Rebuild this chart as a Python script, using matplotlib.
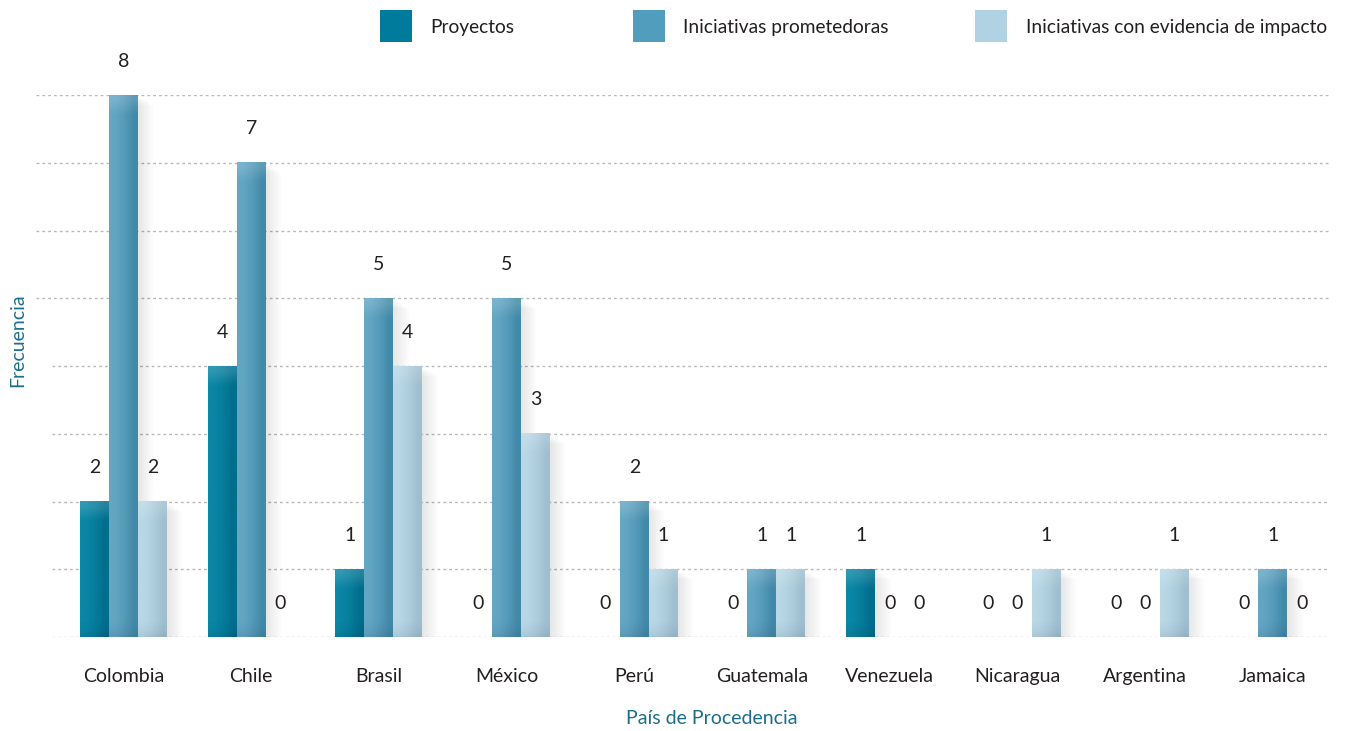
import numpy as np
import matplotlib.pyplot as plt
from matplotlib.patches import Rectangle
from matplotlib.colors import to_rgb

# --- data ---
paises = ["Colombia", "Chile", "Brasil", "México", "Perú",
          "Guatemala", "Venezuela", "Nicaragua", "Argentina", "Jamaica"]
proyectos = [2, 4, 1, 0, 0, 0, 1, 0, 0, 0]
prometedoras = [8, 7, 5, 5, 2, 1, 0, 0, 0, 1]
evidencia = [2, 0, 4, 3, 1, 1, 0, 1, 1, 0]
series_names = ["Proyectos", "Iniciativas prometedoras",
                "Iniciativas con evidencia de impacto"]

# (base, left-light, right-dark)
palette = [
    ("#007b9b", "#0a87a6", "#006d8c"),
    ("#519dbd", "#63a6c4", "#4289a9"),
    ("#b1d2e2", "#b9d8e6", "#9fbfd0"),
]
TEAL = "#1b6e8e"
TXT = "#231f20"

plt.rcParams["font.family"] = ["Lato", "DejaVu Sans"]

fig = plt.figure(figsize=(13.46, 7.31), dpi=100)
W, H = 1346, 731
ax = fig.add_axes([36 / W, (H - 637) / H, 1294 / W, (637 - 95) / H])

x = np.arange(len(paises))
bw = 0.227
ax.set_xlim(-0.685, 9.448)
ax.set_ylim(0, 8)

# dotted gridlines
for g in range(0, 9):
    xmin = 0.0 if g >= 5 else 16 / 1294
    ax.axhline(g, xmin=xmin, xmax=1, color="#b8b8b8", lw=1.0,
               dashes=(2, 2.2), zorder=0)


def gradient_bar(patch, cols):
    x0, w, h = patch.get_x(), patch.get_width(), patch.get_height()
    if h <= 0:
        return
    # soft shadow
    for k in range(1, 9):
        dx = 0.01 * k
        ax.add_patch(Rectangle((x0 + dx * 0.5, -0.018 * k), w + dx, h,
                               facecolor="#000000", alpha=0.012,
                               lw=0, zorder=1))
    left, right = np.array(to_rgb(cols[1])), np.array(to_rgb(cols[2]))
    t = np.linspace(0, 1, 40)
    prof = np.clip(t * 1.3 - 0.15, 0, 1) ** 1.4
    row = left[None, :] * (1 - prof[:, None]) + right[None, :] * prof[:, None]
    img = np.repeat(row[None, :, :], 2, axis=0)
    ax.imshow(img, extent=(x0, x0 + w, 0, h), aspect="auto",
              interpolation="bilinear", zorder=3, origin="lower")
    # soft top highlight
    hh = min(0.35, h * 0.5)
    s = np.linspace(0, 1, 30)
    a = (0.16 * np.sin(s * np.pi / 2) ** 2)[:, None, None] * np.ones((1, 10, 1))
    hl = np.concatenate([np.ones((30, 10, 3)), a], axis=2)
    ax.imshow(hl, extent=(x0, x0 + w, h - hh, h), aspect="auto",
              interpolation="bilinear", zorder=4, origin="lower")
    # subtle bottom darkening
    b = (0.08 * (1 - s) ** 2)[:, None, None] * np.ones((1, 10, 1))
    dk = np.concatenate([np.zeros((30, 10, 3)), b], axis=2)
    ax.imshow(dk, extent=(x0, x0 + w, 0, min(0.3, h * 0.5)), aspect="auto",
              interpolation="bilinear", zorder=4, origin="lower")


for i, vals in enumerate([proyectos, prometedoras, evidencia]):
    pos = x + (i - 1) * bw
    bars = ax.bar(pos, vals, width=bw, color=palette[i][0], lw=0, zorder=2)
    for p, v in zip(bars, vals):
        gradient_bar(p, palette[i])
        ax.text(p.get_x() + bw / 2, v + 0.5, str(v), ha="center",
                va="center", fontsize=14, color=TXT, clip_on=False, zorder=6)

ax.set_xticks(x)
ax.set_xticklabels(paises, fontsize=14, color=TXT)
ax.tick_params(axis="x", length=0, pad=22)
ax.set_yticks([])
for s in ax.spines.values():
    s.set_visible(False)

fig.text(712 / W, 1 - 718 / H, "País de Procedencia", ha="center",
         va="center", fontsize=14, color=TEAL)
fig.text(18 / W, 1 - 340 / H, "Frecuencia", ha="center", va="center",
         rotation=90, fontsize=14, color=TEAL)

# legend drawn at the top
leg_sq = [380, 633, 975]
leg_tx = [430, 683, 1026]
for i, name in enumerate(series_names):
    fig.add_artist(Rectangle((leg_sq[i] / W, 1 - 42 / H), 32 / W, 32 / H,
                             transform=fig.transFigure,
                             facecolor=palette[i][0], lw=0))
    fig.text(leg_tx[i] / W, 1 - 27 / H, name, ha="left", va="center",
             fontsize=13.8, color=TXT)

fig.savefig("out.png", dpi=100)
